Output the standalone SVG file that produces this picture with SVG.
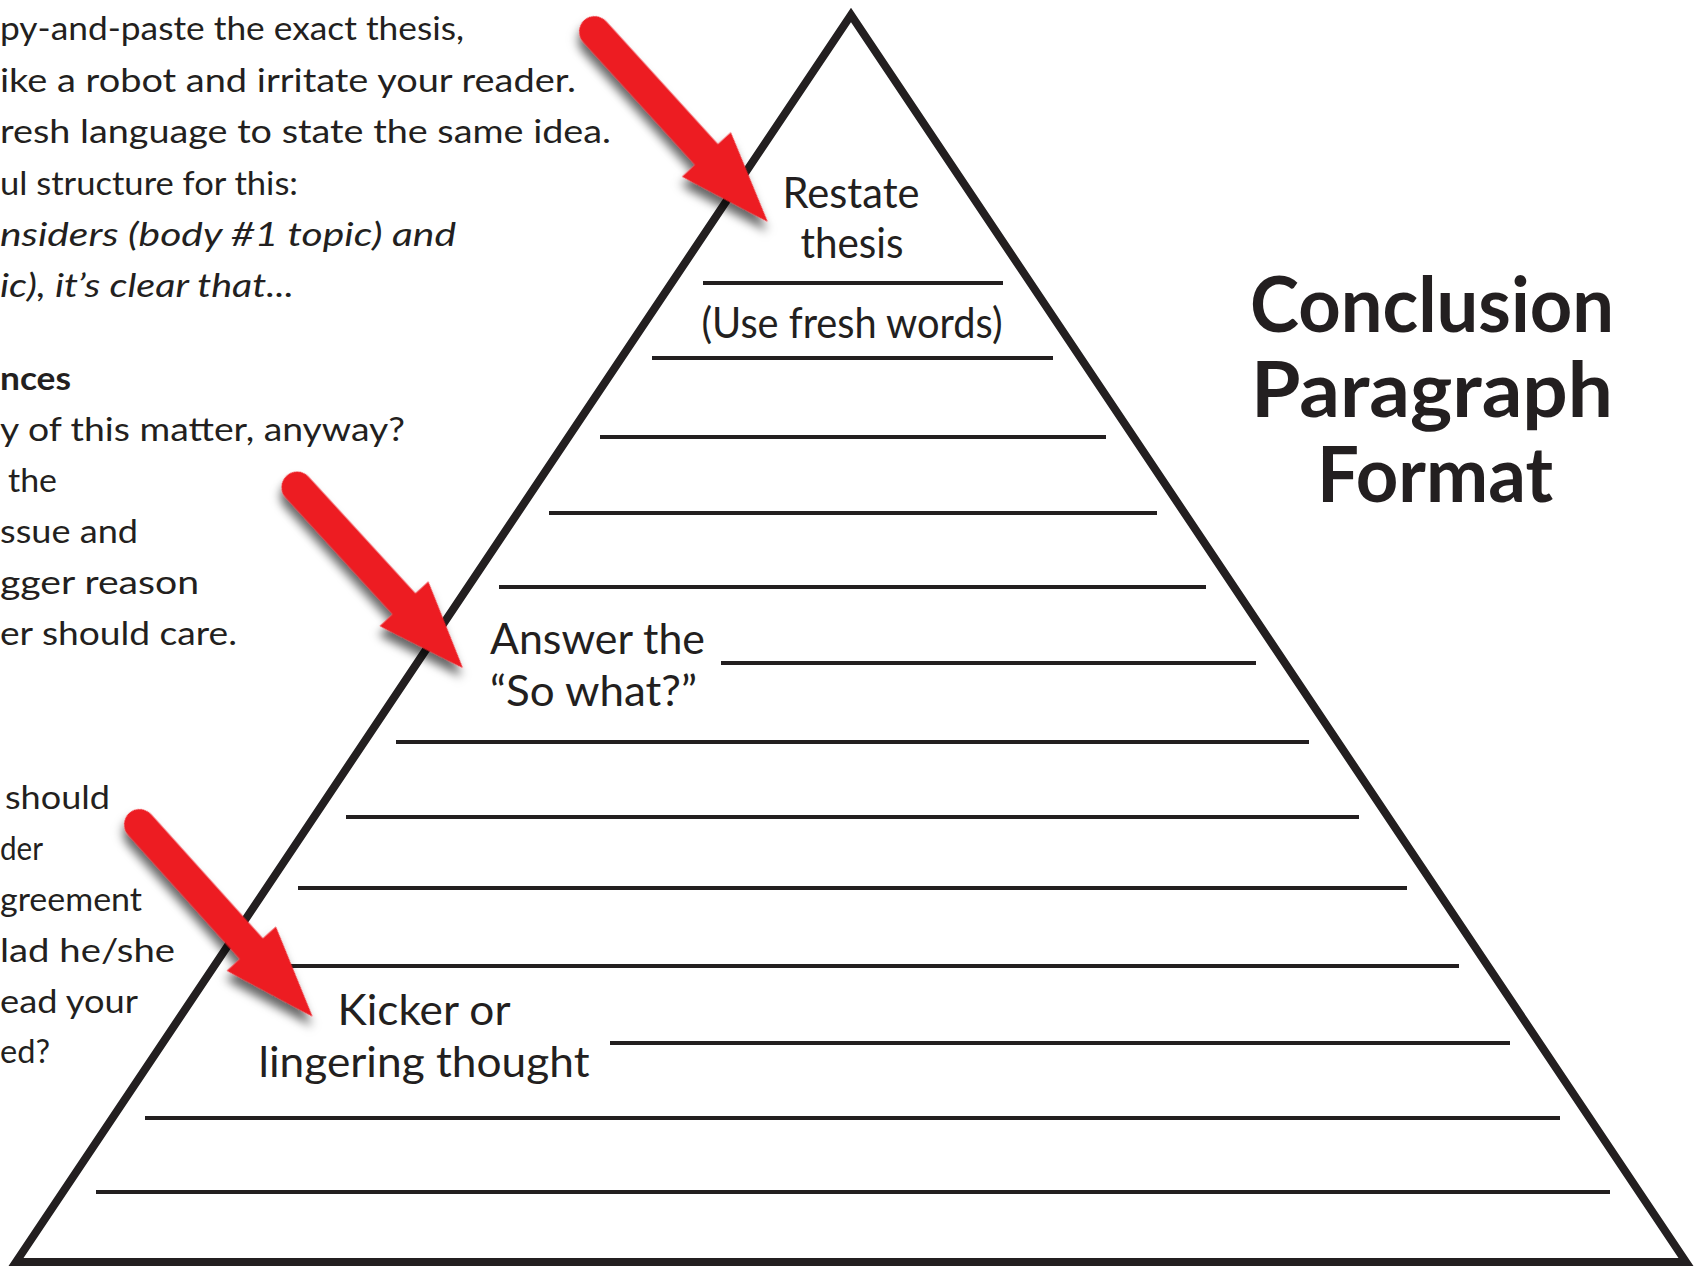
<svg xmlns="http://www.w3.org/2000/svg" width="1701" height="1268" viewBox="0 0 1701 1268">
<style>
.t{font-family:Lato,"Liberation Sans",sans-serif;fill:#231f20;}
.side{font-size:32px;}
.it{font-style:italic;}
.b{font-weight:bold;}
.lbl{font-size:43px;}
.title{font-size:77px;font-weight:bold;}
.ln{stroke:#231f20;stroke-width:4;}
.arrow{fill:#ed1c24;filter:url(#sh);}
</style>
<defs>
<filter id="sh" x="-30%" y="-30%" width="160%" height="160%">
<feDropShadow dx="6" dy="7" stdDeviation="5" flood-color="#000" flood-opacity="0.6"/>
</filter>
<path id="arr" d="M0,-15.5 L160,-15.5 L160,-33 L248,0 L160,33 L160,15.5 L0,15.5 A15.5,15.5 0 0 1 0,-15.5 Z"/>
</defs>
<rect width="1701" height="1268" fill="#fff"/>

<g id="side-text">
<text class="t side" x="0" y="40" textLength="464" lengthAdjust="spacingAndGlyphs">py-and-paste the exact thesis,</text>
<text class="t side" x="0" y="92" textLength="576" lengthAdjust="spacingAndGlyphs">ike a robot and irritate your reader.</text>
<text class="t side" x="0" y="143" textLength="611" lengthAdjust="spacingAndGlyphs">resh language to state the same idea.</text>
<text class="t side" x="0" y="195" textLength="298" lengthAdjust="spacingAndGlyphs">ul structure for this:</text>
<text class="t side it" x="0" y="246" textLength="456" lengthAdjust="spacingAndGlyphs">nsiders (body #1 topic) and</text>
<text class="t side it" x="0" y="297" textLength="294" lengthAdjust="spacingAndGlyphs">ic), it’s clear that...</text>
<text class="t side b" x="0" y="390" textLength="71" lengthAdjust="spacingAndGlyphs">nces</text>
<text class="t side" x="0" y="441" textLength="405" lengthAdjust="spacingAndGlyphs">y of this matter, anyway?</text>
<text class="t side" x="8" y="492" textLength="49" lengthAdjust="spacingAndGlyphs">the</text>
<text class="t side" x="0" y="543" textLength="138" lengthAdjust="spacingAndGlyphs">ssue and</text>
<text class="t side" x="0" y="594" textLength="199" lengthAdjust="spacingAndGlyphs">gger reason</text>
<text class="t side" x="0" y="645" textLength="237" lengthAdjust="spacingAndGlyphs">er should care.</text>
<text class="t side" x="5" y="809" textLength="105" lengthAdjust="spacingAndGlyphs">should</text>
<text class="t side" x="0" y="860" textLength="43" lengthAdjust="spacingAndGlyphs">der</text>
<text class="t side" x="0" y="911" textLength="142" lengthAdjust="spacingAndGlyphs">greement</text>
<text class="t side" x="0" y="962" textLength="175" lengthAdjust="spacingAndGlyphs">lad he/she</text>
<text class="t side" x="0" y="1013" textLength="138" lengthAdjust="spacingAndGlyphs">ead your</text>
<text class="t side" x="0" y="1063" textLength="50" lengthAdjust="spacingAndGlyphs">ed?</text>
</g>

<g id="title">
<text class="t title" x="1432" y="332" text-anchor="middle" textLength="364" lengthAdjust="spacingAndGlyphs">Conclusion</text>
<text class="t title" x="1432" y="417" text-anchor="middle" textLength="362" lengthAdjust="spacingAndGlyphs">Paragraph</text>
<text class="t title" x="1435" y="502" text-anchor="middle" textLength="236" lengthAdjust="spacingAndGlyphs">Format</text>
</g>

<g id="pyramid">
<g id="writing-lines">
<line class="ln" x1="703" y1="283" x2="1003" y2="283"/>
<line class="ln" x1="652" y1="358" x2="1053" y2="358"/>
<line class="ln" x1="600" y1="437" x2="1106" y2="437"/>
<line class="ln" x1="549" y1="513" x2="1157" y2="513"/>
<line class="ln" x1="499" y1="587" x2="1206" y2="587"/>
<line class="ln" x1="721" y1="663" x2="1256" y2="663"/>
<line class="ln" x1="396" y1="742" x2="1309" y2="742"/>
<line class="ln" x1="346" y1="817" x2="1359" y2="817"/>
<line class="ln" x1="298" y1="888" x2="1407" y2="888"/>
<line class="ln" x1="246" y1="966" x2="1459" y2="966"/>
<line class="ln" x1="610" y1="1043" x2="1510" y2="1043"/>
<line class="ln" x1="145" y1="1118" x2="1560" y2="1118"/>
<line class="ln" x1="96" y1="1192" x2="1610" y2="1192"/>
</g>
<polygon id="triangle" points="851,15 16,1262 1686,1262" fill="none" stroke="#231f20" stroke-width="8" stroke-linejoin="miter" stroke-miterlimit="10"/>
</g>

<g id="label-restate">
<text class="t lbl" x="851" y="208" text-anchor="middle" textLength="137" lengthAdjust="spacingAndGlyphs">Restate</text>
<text class="t lbl" x="852" y="258" text-anchor="middle" textLength="103" lengthAdjust="spacingAndGlyphs">thesis</text>
<text class="t lbl" x="852" y="338" text-anchor="middle" textLength="301" lengthAdjust="spacingAndGlyphs">(Use fresh words)</text>
</g>
<g id="label-sowhat">
<text class="t lbl" x="490" y="654" textLength="215" lengthAdjust="spacingAndGlyphs">Answer the</text>
<text class="t lbl" x="490" y="706" textLength="207" lengthAdjust="spacingAndGlyphs">“So what?”</text>
</g>
<g id="label-kicker">
<text class="t lbl" x="424" y="1025" text-anchor="middle" textLength="173" lengthAdjust="spacingAndGlyphs">Kicker or</text>
<text class="t lbl" x="424" y="1077" text-anchor="middle" textLength="331" lengthAdjust="spacingAndGlyphs">lingering thought</text>
</g>

<g id="connectors">
<use href="#arr" class="arrow" transform="translate(595,32) rotate(47.7) scale(1.035,1)"/>
<use href="#arr" class="arrow" transform="translate(297,487) rotate(47.5) scale(0.99,1)"/>
<use href="#arr" class="arrow" transform="translate(140,825) rotate(48) scale(1.04,1)"/>
</g>
</svg>
